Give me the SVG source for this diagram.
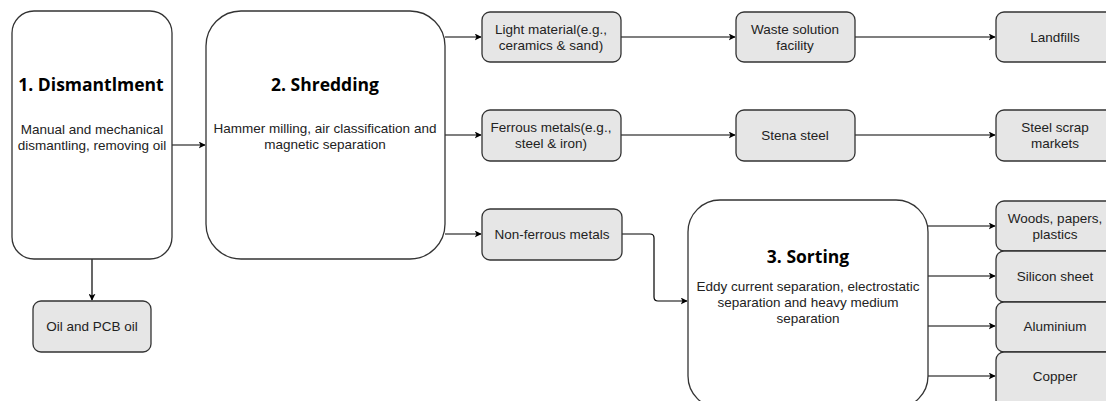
<svg xmlns="http://www.w3.org/2000/svg" width="1106" height="401" viewBox="0 0 1106 401">
  <defs>
    <marker id="arrow" viewBox="0 0 10 10" refX="9" refY="5" markerWidth="7" markerHeight="7" markerUnits="userSpaceOnUse" orient="auto">
      <path d="M0,0 L10,5 L0,10 L2.5,5 Z" fill="#000"/>
    </marker>
    <style>
      .stage { fill: #ffffff; stroke: #333333; stroke-width: 1.3; }
      .item { fill: #e6e6e6; stroke: #333333; stroke-width: 1.3; }
      .title { font-family: "Open Sans", "Liberation Sans", sans-serif; font-weight: bold; font-size: 17.5px; fill: #000; text-anchor: middle; }
      .body { font-family: "Liberation Sans", Arial, sans-serif; font-size: 13.5px; fill: #222; text-anchor: middle; }
      .link { fill: none; stroke: #000; stroke-width: 1.2; marker-end: url(#arrow); }
    </style>
  </defs>
  <rect width="1106" height="401" fill="#ffffff"/>

  <!-- connectors -->
  <g id="connectors">
    <path class="link" d="M172,145 H205"/>
    <path class="link" d="M92,259 V300"/>
    <path class="link" d="M445,37 H481"/>
    <path class="link" d="M445,135 H481"/>
    <path class="link" d="M445,234 H481"/>
    <path class="link" d="M621,37 H735"/>
    <path class="link" d="M621,135 H735"/>
    <path class="link" d="M855,37 H995"/>
    <path class="link" d="M855,135 H995"/>
    <path class="link" d="M622,234 H650 Q654,234 654,238 V297 Q654,301 658,301 H687"/>
    <path class="link" d="M928,226 H995"/>
    <path class="link" d="M928,276 H995"/>
    <path class="link" d="M928,326 H995"/>
    <path class="link" d="M928,376 H995"/>
  </g>

  <!-- stage 1 -->
  <g id="dismantlement">
    <rect class="stage" x="12" y="11" width="160" height="248" rx="22"/>
    <text class="title" x="91" y="91">1. Dismantlment</text>
    <text class="body" x="92" y="134">Manual and mechanical</text>
    <text class="body" x="92" y="150">dismantling, removing oil</text>
  </g>

  <!-- stage 2 -->
  <g id="shredding">
    <rect class="stage" x="206" y="11" width="239" height="248" rx="35"/>
    <text class="title" x="325" y="91">2. Shredding</text>
    <text class="body" x="325" y="133">Hammer milling, air classification and</text>
    <text class="body" x="325" y="149">magnetic separation</text>
  </g>

  <!-- stage 3 -->
  <g id="sorting">
    <rect class="stage" x="688" y="200" width="240" height="208" rx="32"/>
    <text class="title" x="808" y="263">3. Sorting</text>
    <text class="body" x="808" y="291">Eddy current separation, electrostatic</text>
    <text class="body" x="808" y="307">separation and heavy medium</text>
    <text class="body" x="808" y="323">separation</text>
  </g>

  <g id="oil">
    <rect class="item" x="33" y="301" width="118" height="51" rx="8"/>
    <text class="body" x="92" y="331">Oil and PCB oil</text>
  </g>

  <g id="light-material">
    <rect class="item" x="482" y="12" width="139" height="50" rx="8"/>
    <text class="body" x="551" y="34">Light material(e.g.,</text>
    <text class="body" x="551" y="50">ceramics &amp; sand)</text>
  </g>

  <g id="ferrous">
    <rect class="item" x="482" y="110" width="139" height="51" rx="8"/>
    <text class="body" x="551" y="132">Ferrous metals(e.g.,</text>
    <text class="body" x="551" y="148">steel &amp; iron)</text>
  </g>

  <g id="non-ferrous">
    <rect class="item" x="482" y="209" width="140" height="51" rx="8"/>
    <text class="body" x="552" y="239">Non-ferrous metals</text>
  </g>

  <g id="waste-solution">
    <rect class="item" x="736" y="12" width="119" height="50" rx="8"/>
    <text class="body" x="795" y="34">Waste solution</text>
    <text class="body" x="795" y="50">facility</text>
  </g>

  <g id="stena-steel">
    <rect class="item" x="736" y="110" width="119" height="51" rx="8"/>
    <text class="body" x="795" y="140">Stena steel</text>
  </g>

  <g id="landfills">
    <rect class="item" x="996" y="12" width="118" height="50" rx="8"/>
    <text class="body" x="1055" y="42">Landfills</text>
  </g>

  <g id="steel-scrap">
    <rect class="item" x="996" y="110" width="118" height="51" rx="8"/>
    <text class="body" x="1055" y="132">Steel scrap</text>
    <text class="body" x="1055" y="148">markets</text>
  </g>

  <g id="woods">
    <rect class="item" x="996" y="201" width="118" height="50" rx="8"/>
    <text class="body" x="1055" y="223">Woods, papers,</text>
    <text class="body" x="1055" y="239">plastics</text>
  </g>

  <g id="silicon">
    <rect class="item" x="996" y="251" width="118" height="51" rx="8"/>
    <text class="body" x="1055" y="281">Silicon sheet</text>
  </g>

  <g id="aluminium">
    <rect class="item" x="996" y="302" width="118" height="50" rx="8"/>
    <text class="body" x="1055" y="331">Aluminium</text>
  </g>

  <g id="copper">
    <rect class="item" x="996" y="352" width="118" height="56" rx="8"/>
    <text class="body" x="1055" y="381">Copper</text>
  </g>
</svg>
